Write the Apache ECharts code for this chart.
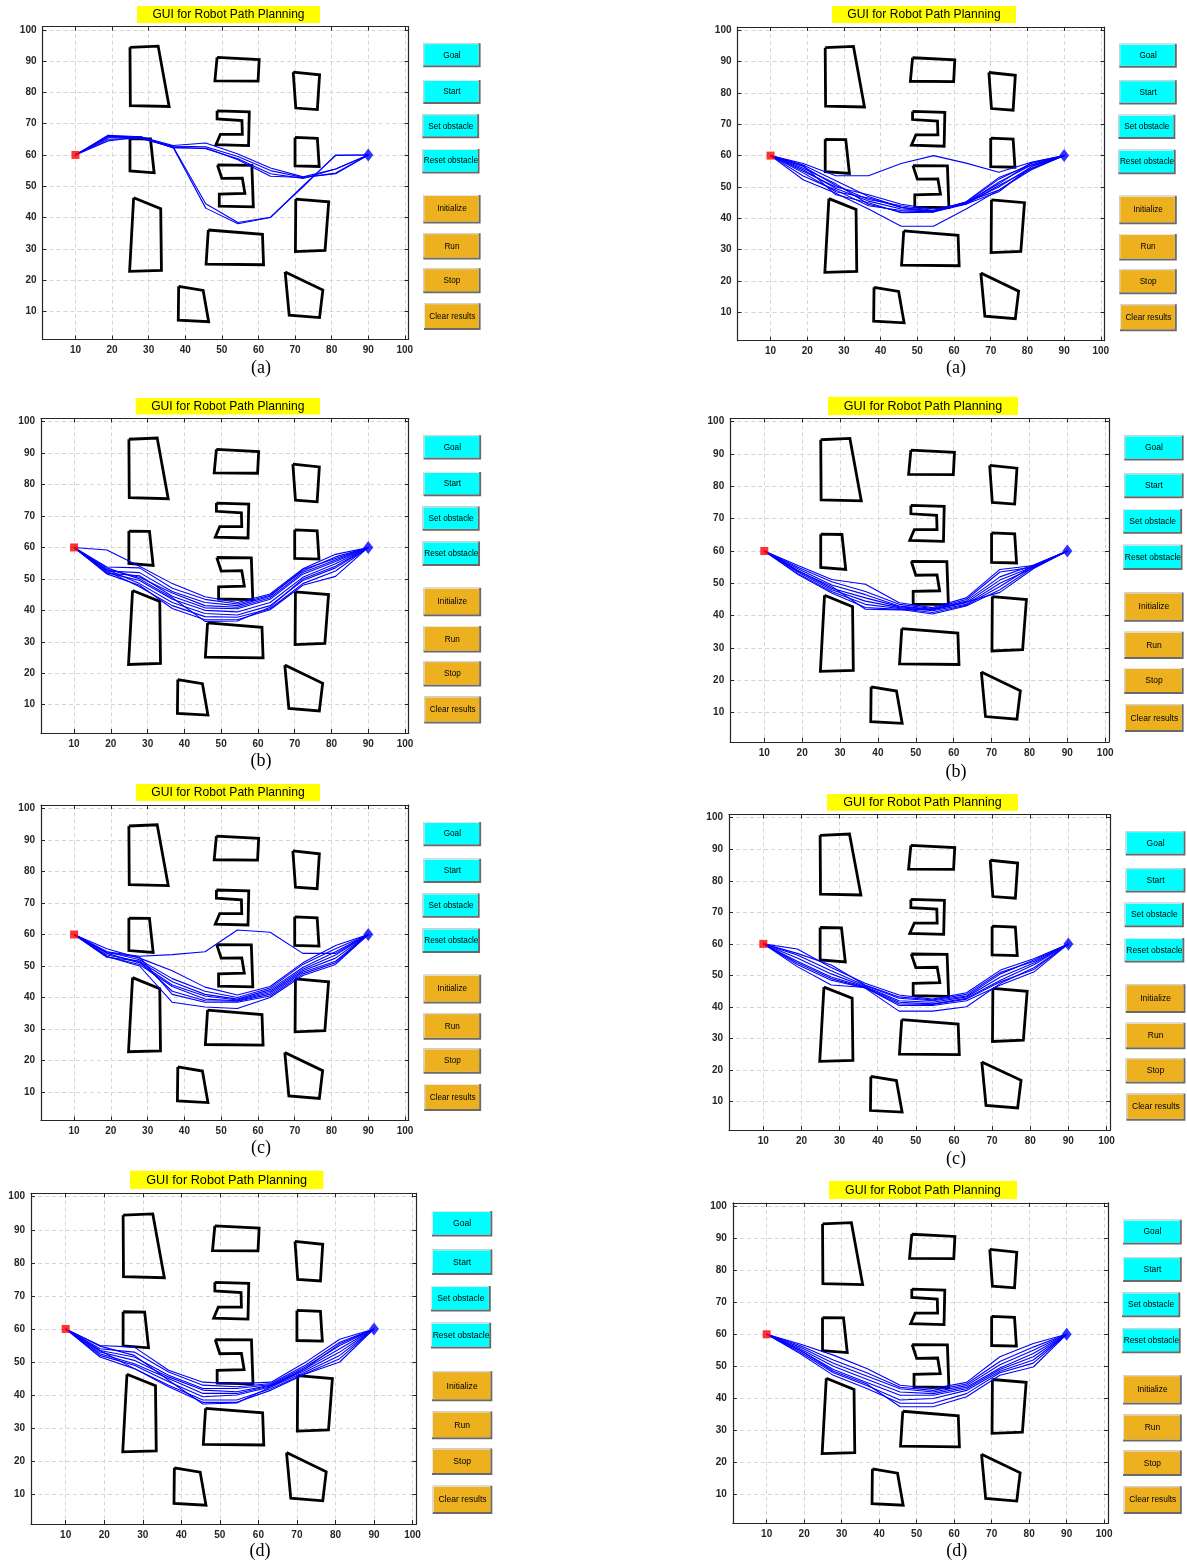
<!DOCTYPE html>
<html>
<head>
<meta charset="utf-8">
<script src="https://cdn.jsdelivr.net/npm/echarts@6/dist/echarts.min.js"></script>
<style>
  html, body { margin: 0; padding: 0; background: #ffffff; }
  #chart { width: 1187px; height: 1563px; }
</style>
</head>
<body>
<div id="chart"></div>
<script>
// ---- data ----------------------------------------------------------------
// x stations shared by every candidate path (start .. goal)
const stationX = [10, 18.9, 27.8, 36.7, 45.6, 54.4, 63.3, 72.2, 81.1, 90];
const startPoint = [10, 60];
const goalPoint = [90, 60];
const axisTicks = [10, 20, 30, 40, 50, 60, 70, 80, 90, 100];
const titleText = 'GUI for Robot Path Planning';
const buttonLabels = ['Goal', 'Start', 'Set obstacle', 'Reset obstacle', 'Initialize', 'Run', 'Stop', 'Clear results'];
const captionLabels = ['(a)', '(a)', '(b)', '(b)', '(c)', '(c)', '(d)', '(d)'];

// obstacle outlines (closed polygons)
const obstacleTallLeftTop = [[24.9, 94.4], [32.6, 94.8], [35.6, 75.5], [25.0, 75.8]];
const obstacleTopMiddle = [[48.7, 91.2], [60.2, 90.5], [59.9, 83.6], [48.1, 83.7]];
const obstacleTopRight = [[69.5, 86.5], [76.7, 85.6], [76.1, 74.5], [70.2, 75.0]];
const obstacleUpperHook = [[48.7, 74.1], [57.5, 73.8], [57.3, 63.0], [48.4, 63.3], [49.6, 66.6], [55.6, 66.6], [55.5, 71.0], [48.7, 71.5]];
const obstacleMidRight = [[70.0, 65.6], [76.1, 65.3], [76.6, 56.3], [70.0, 56.5]];
const obstacleMidLeft = [[24.9, 65.2], [30.5, 65.1], [31.5, 54.3], [24.9, 54.9]];
const obstacleLowerHook = [[48.8, 56.8], [58.2, 56.7], [58.6, 43.4], [49.3, 43.6], [49.3, 47.5], [56.3, 47.7], [55.6, 52.6], [50.0, 52.5]];
const obstacleTallLeftLow = [[25.9, 46.3], [33.3, 42.8], [33.5, 23.1], [24.8, 22.8]];
const obstacleLowMiddle = [[46.3, 36.0], [61.1, 34.6], [61.4, 24.9], [45.7, 25.1]];
const obstacleLowRight = [[70.2, 45.9], [79.2, 45.0], [78.2, 29.5], [70.1, 29.1]];
const obstacleBottomMiddle = [[38.2, 18.0], [44.9, 16.7], [46.4, 6.7], [38.1, 7.2]];
const obstacleBottomRight = [[67.3, 22.6], [77.6, 16.8], [76.7, 8.0], [68.4, 8.8]];
const obstacles = [obstacleTallLeftTop, obstacleTopMiddle, obstacleTopRight, obstacleUpperHook,
  obstacleMidRight, obstacleMidLeft, obstacleLowerHook, obstacleTallLeftLow, obstacleLowMiddle,
  obstacleLowRight, obstacleBottomMiddle, obstacleBottomRight];

// y of each path at the interior stations (x = 18.9 .. 81.1)
const pathsLeftA = [
  [66.3, 65.8, 63.0, 63.8, 60.3, 55.8, 53.0, 55.5],
  [65.8, 65.5, 62.8, 62.6, 59.5, 55.0, 52.8, 54.2],
  [65.0, 65.3, 62.5, 62.0, 58.8, 54.0, 52.5, 55.5],
  [64.5, 65.8, 62.2, 62.2, 58.5, 53.2, 52.8, 54.0],
  [66.0, 65.8, 62.6, 44.4, 38.4, 40.1, 49.8, 60.0],
  [65.5, 65.6, 62.4, 43.0, 38.0, 40.0, 50.2, 59.8]
];
const pathsRightA = [
  [57.5, 53.6, 53.6, 57.5, 60.0, 57.6, 54.7, 57.9],
  [52.3, 48.0, 43.0, 37.5, 37.5, 43.0, 49.0, 55.5],
  [56.5, 50.5, 46.0, 44.0, 42.5, 45.0, 50.0, 56.5],
  [57.0, 52.0, 47.0, 43.5, 42.2, 44.8, 51.5, 57.0],
  [55.5, 49.5, 45.5, 43.0, 42.5, 45.2, 49.0, 56.0],
  [56.0, 51.0, 44.5, 42.0, 42.3, 45.0, 52.5, 57.5],
  [54.5, 48.5, 46.5, 43.5, 42.0, 44.5, 50.5, 55.8],
  [56.8, 47.5, 45.0, 41.8, 42.0, 45.3, 53.0, 57.0],
  [55.0, 50.0, 47.5, 44.5, 43.0, 44.6, 48.5, 56.5],
  [53.5, 49.0, 44.0, 42.5, 42.3, 45.0, 51.0, 57.8]
];
const pathsLeftB = [
  [59.2, 54.0, 48.5, 44.3, 42.5, 45.2, 53.2, 57.8],
  [53.8, 53.5, 47.0, 43.5, 42.0, 44.8, 52.5, 57.0],
  [52.5, 52.0, 46.0, 42.5, 41.5, 44.5, 53.0, 56.5],
  [53.0, 50.5, 45.5, 41.5, 41.0, 44.0, 52.0, 56.0],
  [51.8, 51.0, 44.5, 40.8, 40.5, 43.5, 51.5, 55.5],
  [52.0, 49.5, 43.5, 40.0, 39.5, 42.5, 50.5, 54.8],
  [53.0, 48.5, 42.5, 39.0, 38.5, 41.5, 49.5, 53.5],
  [52.5, 47.5, 41.5, 38.0, 37.8, 40.5, 48.5, 52.5],
  [51.6, 48.0, 40.6, 37.0, 37.0, 40.2, 48.0, 50.8],
  [53.5, 50.0, 44.0, 36.5, 36.6, 41.0, 50.0, 54.0]
];
const pathsRightB = [
  [55.5, 51.2, 49.7, 44.0, 42.5, 45.5, 54.3, 55.5],
  [55.0, 50.5, 47.5, 43.5, 42.2, 45.0, 53.5, 55.0],
  [54.5, 49.5, 46.5, 43.0, 42.0, 44.5, 52.0, 55.7],
  [54.0, 48.5, 45.5, 42.8, 41.8, 44.0, 51.0, 55.2],
  [53.5, 48.0, 44.5, 42.5, 41.5, 43.5, 50.0, 54.8],
  [53.0, 47.5, 43.5, 42.2, 41.0, 43.2, 49.0, 55.5],
  [52.7, 47.0, 42.5, 42.0, 40.5, 43.0, 48.0, 55.0],
  [53.8, 49.0, 42.0, 41.8, 42.0, 44.2, 47.2, 54.6]
];
const pathsLeftC = [
  [54.5, 53.1, 53.6, 54.5, 61.4, 60.7, 54.0, 54.0],
  [53.0, 50.0, 38.5, 37.0, 36.5, 40.0, 47.0, 50.5],
  [55.5, 52.5, 48.5, 43.3, 40.8, 43.5, 51.0, 56.5],
  [54.5, 52.0, 46.0, 42.0, 40.0, 43.0, 50.5, 55.5],
  [53.5, 51.5, 45.0, 41.0, 39.5, 42.5, 49.5, 54.5],
  [54.0, 51.0, 44.0, 40.5, 39.2, 42.0, 49.0, 53.5],
  [53.0, 50.5, 43.5, 39.5, 39.0, 41.5, 48.5, 52.5],
  [52.8, 51.5, 42.0, 39.0, 38.8, 41.0, 48.0, 51.5],
  [54.2, 52.8, 41.0, 38.5, 38.5, 40.5, 47.5, 51.0]
];
const pathsRightC = [
  [58.4, 52.5, 47.5, 43.8, 42.5, 44.5, 51.7, 55.4],
  [57.0, 53.3, 47.0, 43.2, 42.2, 44.0, 51.0, 54.5],
  [56.5, 51.5, 46.8, 42.8, 42.0, 43.5, 50.5, 55.0],
  [55.5, 50.5, 46.5, 42.0, 41.5, 43.2, 49.5, 54.0],
  [54.5, 49.5, 46.3, 41.5, 41.0, 42.8, 48.5, 53.5],
  [53.5, 48.5, 46.0, 41.0, 40.8, 42.5, 48.0, 52.0],
  [52.8, 47.0, 46.2, 40.5, 40.5, 42.0, 47.0, 51.2],
  [54.0, 49.0, 46.0, 38.7, 38.7, 40.1, 47.5, 52.5]
];
const pathsLeftD = [
  [55.0, 54.5, 47.5, 43.9, 43.4, 43.9, 49.9, 56.9],
  [54.0, 53.0, 47.0, 43.0, 42.5, 43.5, 49.0, 56.0],
  [53.5, 51.5, 46.0, 42.0, 42.0, 43.2, 48.5, 55.0],
  [53.0, 50.5, 45.5, 41.5, 41.0, 43.0, 48.0, 54.0],
  [52.5, 49.5, 45.0, 40.5, 40.5, 42.8, 47.5, 53.0],
  [52.0, 49.0, 44.0, 39.5, 40.0, 42.5, 47.0, 52.0],
  [51.5, 48.0, 43.0, 38.5, 38.5, 42.0, 46.5, 51.0],
  [53.5, 48.0, 42.5, 37.8, 37.8, 41.5, 46.4, 50.0],
  [54.8, 52.0, 44.5, 37.3, 37.6, 42.5, 48.0, 55.5]
];
const pathsRightD = [
  [57.0, 53.5, 49.3, 44.1, 43.1, 45.0, 53.0, 57.1],
  [56.5, 52.0, 48.0, 43.5, 42.5, 44.5, 51.5, 56.0],
  [56.0, 51.0, 47.0, 43.0, 42.0, 44.0, 50.5, 55.0],
  [55.5, 50.0, 46.0, 42.0, 41.5, 43.5, 49.5, 54.0],
  [55.0, 49.0, 45.0, 41.0, 41.0, 43.0, 49.0, 53.0],
  [54.5, 48.0, 44.0, 39.5, 40.0, 42.5, 48.5, 52.0],
  [54.0, 47.2, 43.1, 38.5, 38.5, 41.5, 48.0, 51.0],
  [55.0, 48.5, 44.5, 37.4, 37.4, 40.5, 47.2, 49.8]
];
const panelPaths = [pathsLeftA, pathsRightA, pathsLeftB, pathsRightB, pathsLeftC, pathsRightC, pathsLeftD, pathsRightD];

// ---- layout (pixel boxes of each GUI snapshot) ----------------------------
const panels = [
  { grid: [42.5, 26.7, 366, 312.8],   title: [137, 6, 183, 17],      caption: [261, 368] },
  { grid: [737.5, 27, 367, 313.7],    title: [832, 6, 184, 17],      caption: [956, 368] },
  { grid: [41, 418.5, 367.7, 314.5],  title: [135.7, 398, 184.3, 16.5], caption: [261, 761.7] },
  { grid: [730.2, 418.4, 378.8, 323.4], title: [828, 396.7, 190, 18.3], caption: [956, 772] },
  { grid: [41, 805.2, 367.7, 315.3],  title: [136, 784, 184, 17],    caption: [261, 1148] },
  { grid: [729, 814.5, 381.3, 315.6], title: [827, 794, 191, 16.7],  caption: [956, 1159] },
  { grid: [31, 1193.4, 385.4, 330.6], title: [130, 1170.7, 193.3, 18.3], caption: [260, 1551.7] },
  { grid: [732.9, 1202.8, 375, 320.7], title: [829, 1181, 188, 18],  caption: [956.7, 1551.7] }
];
// button boxes relative to the plot box: x from right edge (fraction of width), y from top (fraction of height)
const buttonBoxes = [
  [0.0404, 0.197, 0.053, 0.130],
  [0.0404, 0.197, 0.170, 0.247],
  [0.0377, 0.193, 0.280, 0.357],
  [0.0377, 0.194, 0.391, 0.469],
  [0.0404, 0.197, 0.538, 0.629],
  [0.0404, 0.197, 0.660, 0.744],
  [0.0404, 0.197, 0.772, 0.852],
  [0.0423, 0.197, 0.884, 0.970]
];
const buttonFaces = ['#00ffff', '#00ffff', '#00ffff', '#00ffff', '#edb120', '#edb120', '#edb120', '#edb120'];

const axisColor = '#262626';
const sansFont = '"Liberation Sans", Arial, Helvetica, sans-serif';

// ---- build option ----------------------------------------------------------
const grids = [], xAxes = [], yAxes = [], series = [], graphics = [];

function frameAxis(gridIndex, position, isMain) {
  return {
    gridIndex: gridIndex, type: 'value', min: 1, max: 101, position: position,
    axisLine: { show: true, onZero: false, lineStyle: { color: axisColor, width: 1.2 } },
    axisTick: { show: true, inside: true, length: 4, customValues: axisTicks, lineStyle: { color: axisColor, width: 1 } },
    axisLabel: { show: isMain, customValues: axisTicks, color: axisColor, fontSize: 10, fontWeight: 'bold', fontFamily: sansFont, margin: 6 },
    splitLine: { show: isMain, lineStyle: { color: '#d6d6d6', width: 1, type: [4, 3] } }
  };
}

panels.forEach((p, i) => {
  const [gl, gt, gw, gh] = p.grid;
  grids.push({ left: gl, top: gt, width: gw, height: gh, containLabel: false, outerBoundsMode: 'none', show: false });
  xAxes.push(frameAxis(i, 'bottom', true));
  xAxes.push(frameAxis(i, 'top', false));
  yAxes.push(frameAxis(i, 'left', true));
  yAxes.push(frameAxis(i, 'right', false));
  const xi = 2 * i, yi = 2 * i;

  obstacles.forEach((poly) => {
    series.push({
      type: 'line', name: 'obstacle', xAxisIndex: xi, yAxisIndex: yi,
      data: poly.concat([poly[0]]), showSymbol: false, symbol: 'none',
      lineStyle: { color: '#000000', width: 2.8, join: 'miter' }, z: 3, silent: true
    });
  });

  panelPaths[i].forEach((mid) => {
    const ys = [startPoint[1]].concat(mid, [goalPoint[1]]);
    series.push({
      type: 'line', name: 'path', xAxisIndex: xi, yAxisIndex: yi,
      data: stationX.map((x, k) => [x, ys[k]]), showSymbol: false, symbol: 'none',
      lineStyle: { color: '#0000ff', width: 1.1 }, z: 4, silent: true
    });
  });

  series.push({
    type: 'scatter', name: 'start', xAxisIndex: xi, yAxisIndex: yi, data: [startPoint],
    symbol: 'rect', symbolSize: 8, itemStyle: { color: '#ff0000' }, z: 5, silent: true
  });
  series.push({
    type: 'scatter', name: 'goal', xAxisIndex: xi, yAxisIndex: yi, data: [goalPoint],
    symbol: 'diamond', symbolSize: [10, 13], itemStyle: { color: '#0000ff' }, z: 5, silent: true
  });

  // title bar
  const [tx, ty, tw, th] = p.title;
  graphics.push({ type: 'rect', silent: true, shape: { x: tx, y: ty, width: tw, height: th }, style: { fill: '#ffff00' } });
  graphics.push({ type: 'text', silent: true, style: {
    text: titleText, x: tx + tw / 2, y: ty + th / 2 + 0.5, align: 'center', verticalAlign: 'middle',
    fill: '#000000', font: (12 * tw / 183).toFixed(1) + 'px ' + sansFont } });

  // caption
  graphics.push({ type: 'text', silent: true, style: {
    text: captionLabels[i], x: p.caption[0], y: p.caption[1], align: 'center', verticalAlign: 'middle',
    fill: '#000000', font: '18px "Liberation Serif", "Times New Roman", serif' } });

  // GUI buttons
  const right = gl + gw;
  const fs = (8.2 * gw / 366).toFixed(1);
  buttonLabels.forEach((label, b) => {
    const [rx0, rx1, ry0, ry1] = buttonBoxes[b];
    const bx = right + rx0 * gw, bw = (rx1 - rx0) * gw;
    const by = gt + ry0 * gh, bh = (ry1 - ry0) * gh;
    graphics.push({ type: 'rect', silent: true, shape: { x: bx, y: by, width: bw, height: bh }, style: { fill: '#6a6a6a' } });
    graphics.push({ type: 'rect', silent: true, shape: { x: bx, y: by, width: bw - 2, height: bh - 2 }, style: { fill: '#e8e8e8' } });
    graphics.push({ type: 'rect', silent: true, shape: { x: bx + 1, y: by + 1, width: bw - 3, height: bh - 3 }, style: { fill: buttonFaces[b] } });
    graphics.push({ type: 'text', silent: true, style: {
      text: label, x: bx + bw / 2, y: by + bh / 2, align: 'center', verticalAlign: 'middle',
      fill: '#000000', font: fs + 'px ' + sansFont } });
  });
});

const chart = echarts.init(document.getElementById('chart'), null, { renderer: 'canvas' });
chart.setOption({
  backgroundColor: '#ffffff',
  animation: false,
  grid: grids,
  xAxis: xAxes,
  yAxis: yAxes,
  series: series,
  graphic: { elements: graphics }
});
</script>
</body>
</html>
